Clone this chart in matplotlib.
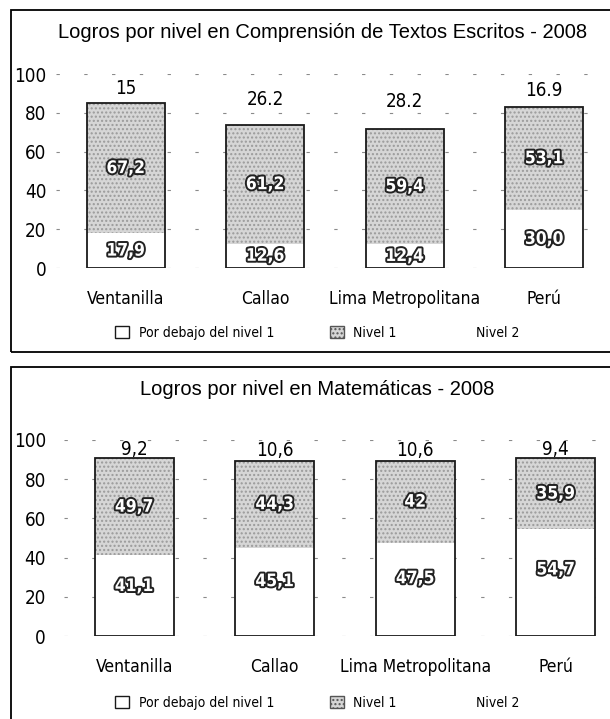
import numpy as np
import matplotlib.pyplot as plt
import matplotlib.patheffects as pe
from matplotlib.patches import Rectangle, Patch

plt.rcParams['font.family'] = ['DejaVu Sans']
plt.rcParams['font.stretch'] = 'condensed'

# Datos (texto tal como aparece en el grafico)
categorias = ["Ventanilla", "Callao", "Lima Metropolitana", "Perú"]
niveles = ["Por debajo del nivel 1", "Nivel 1", "Nivel 2"]

lectura_debajo = ["17,9", "12,6", "12,4", "30,0"]
lectura_nivel1 = ["67,2", "61,2", "59,4", "53,1"]
lectura_nivel2 = ["15", "26.2", "28.2", "16.9"]

mate_debajo = ["41,1", "45,1", "47,5", "54,7"]
mate_nivel1 = ["49,7", "44,3", "42", "35,9"]
mate_nivel2 = ["9,2", "10,6", "10,6", "9,4"]

y_ticks = [0, 20, 40, 60, 80, 100]

gris = '#d6d6d6'


def num(vals):
    return np.array([float(v.replace(",", ".")) for v in vals])


def grafico(ax, debajo, nivel1, nivel2, pos_bajo, pad_y):
    x = np.arange(len(categorias))
    d, n1, n2 = num(debajo), num(nivel1), num(nivel2)
    w = 0.56
    ax.bar(x, d, w, color='white', linewidth=0, zorder=2)
    ax.bar(x, n1, w, bottom=d, color=gris, edgecolor='#9a9a9a',
           linewidth=0, hatch='....', zorder=2)
    ax.bar(x, n2, w, bottom=d + n1, color='none', linewidth=0, zorder=2)
    # contorno de la barra visible
    ax.bar(x, d + n1, w, fill=False, edgecolor='#1a1a1a', linewidth=1.3, zorder=3)

    halo = [pe.withStroke(linewidth=2.8, foreground='#222222')]
    for i in range(len(x)):
        ax.text(x[i], d[i] * pos_bajo, debajo[i], ha='center', va='center',
                color='white', fontsize=12.5, fontweight='bold',
                path_effects=halo, zorder=4)
        ax.text(x[i], d[i] + n1[i] / 2, nivel1[i], ha='center', va='center',
                color='white', fontsize=12.5, fontweight='bold',
                path_effects=halo, zorder=4)
        ax.text(x[i], d[i] + n1[i] + n2[i] / 2, nivel2[i], ha='center',
                va='center', color='black', fontsize=13.5, zorder=4)

    ax.set_xlim(-0.5, 3.5)
    ax.set_ylim(0, 100)
    ax.set_yticks(y_ticks)
    ax.set_xticks(x)
    ax.set_xticklabels(categorias, fontsize=12.5)
    ax.tick_params(axis='y', length=0, pad=pad_y, labelsize=13.5)
    ax.tick_params(axis='x', length=0, pad=16)
    ax.grid(axis='y', color='#8a8a8a', linestyle=(0, (3, 22)), linewidth=0.8, zorder=0)
    for s in ax.spines.values():
        s.set_visible(False)


fig = plt.figure(figsize=(6.1, 7.19), dpi=100)

# marcos de cada panel
fig.patches.append(Rectangle((11 / 610, 1 - 352 / 719), 1.05, 342 / 719,
                             transform=fig.transFigure, fill=False,
                             edgecolor='black', linewidth=1.3))
fig.patches.append(Rectangle((11 / 610, -0.05), 1.05, 1 - 367 / 719 + 0.05,
                             transform=fig.transFigure, fill=False,
                             edgecolor='black', linewidth=1.3))

titulo_font = ['Liberation Sans', 'DejaVu Sans']

ax1 = fig.add_axes([56 / 610, 1 - 268 / 719, 558 / 610, 194 / 719])
grafico(ax1, lectura_debajo, lectura_nivel1, lectura_nivel2, 0.5, 7)
fig.text(0.528, 1 - 32 / 719, "Logros por nivel en Comprensión de Textos Escritos - 2008",
         ha='center', va='center', fontsize=14.5, family=titulo_font, stretch='normal')

ax2 = fig.add_axes([64 / 610, 1 - 636 / 719, 562 / 610, 196 / 719])
grafico(ax2, mate_debajo, mate_nivel1, mate_nivel2, 0.62, 13)
fig.text(0.52, 1 - 390 / 719, "Logros por nivel en Matemáticas - 2008",
         ha='center', va='center', fontsize=14.5, family=titulo_font, stretch='normal')

handles = [Patch(facecolor='white', edgecolor='#1a1a1a', linewidth=1.0),
           Patch(facecolor=gris, edgecolor='#555555', linewidth=1.0, hatch='....'),
           Patch(facecolor='none', edgecolor='none')]
for y in (1 - 333 / 719, 1 - 703 / 719):
    fig.legend(handles, niveles, loc='center', bbox_to_anchor=(0.52, y),
               ncol=3, frameon=False, fontsize=10, columnspacing=4,
               handlelength=1.0, handleheight=1.0, handletextpad=0.7)

fig.savefig('out.png', dpi=100)
